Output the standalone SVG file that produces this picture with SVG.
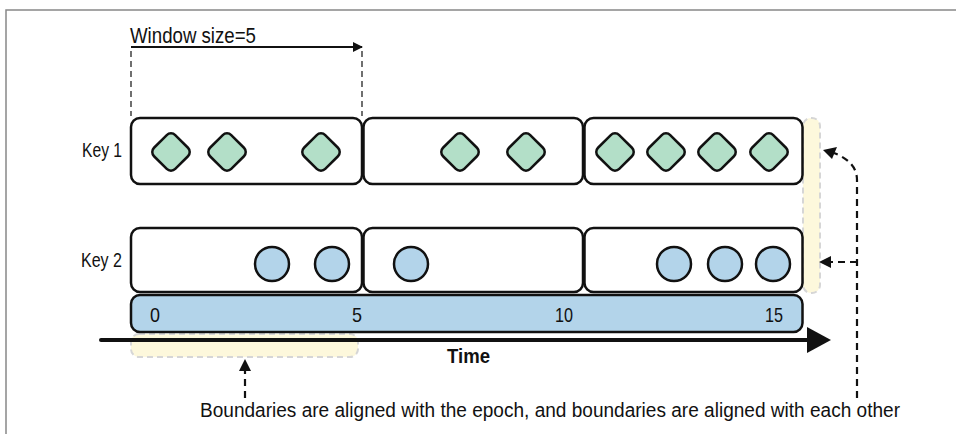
<svg xmlns="http://www.w3.org/2000/svg" width="956" height="434" viewBox="0 0 956 434">
<defs>
<style>
.t{font-family:"Liberation Sans","DejaVu Sans",sans-serif;fill:#111}
.box{fill:#fff;stroke:#111;stroke-width:2.5}
.dia{fill:#b3dfc8;stroke:#111;stroke-width:2.5}
.cir{fill:#b3d4ea;stroke:#111;stroke-width:2.5}
.dash{fill:none;stroke:#111;stroke-width:1.2;stroke-dasharray:6 4}
.dash2{fill:none;stroke:#111;stroke-width:2.2;stroke-dasharray:7 5}
.hl{fill:#fdf8dc;stroke:#d6d6d6;stroke-width:2;stroke-dasharray:6 4}
</style>
<marker id="ah" markerWidth="10" markerHeight="10" refX="9" refY="5" orient="auto" markerUnits="userSpaceOnUse" viewBox="0 0 10 10">
<path d="M0,0 L10,5 L0,10 Z" fill="#111"/>
</marker>
<rect id="d" x="-15" y="-15" width="30" height="30" rx="6" transform="rotate(45)" class="dia"/>
</defs>
<rect width="956" height="434" fill="#fff"/>
<path d="M6,434 V10 H956" fill="none" stroke="#888" stroke-width="1.5"/>

<g id="highlights">
<rect x="803" y="118" width="17" height="175" rx="8" class="hl"/>
<rect x="131" y="334" width="227" height="23" rx="8" class="hl"/>
</g>

<g id="window-label">
<text x="130" y="43" class="t" font-size="22" textLength="126" lengthAdjust="spacingAndGlyphs">Window size=5</text>
<line x1="131" y1="47" x2="362" y2="47" stroke="#111" stroke-width="2.2" marker-end="url(#ah)"/>
<line x1="131" y1="51" x2="131" y2="116" class="dash"/>
<line x1="362" y1="51" x2="362" y2="116" class="dash"/>
</g>

<g id="key1">
<text x="122" y="157" class="t" font-size="21" text-anchor="end" textLength="40" lengthAdjust="spacingAndGlyphs">Key 1</text>
<rect x="131" y="118" width="231" height="66" rx="9" class="box"/>
<rect x="363.5" y="118" width="219.5" height="66" rx="9" class="box"/>
<rect x="584.5" y="118" width="218" height="66" rx="9" class="box"/>
<use href="#d" x="171" y="152"/>
<use href="#d" x="227" y="152"/>
<use href="#d" x="321" y="152"/>
<use href="#d" x="460" y="152"/>
<use href="#d" x="526" y="152"/>
<use href="#d" x="615" y="152"/>
<use href="#d" x="666" y="152"/>
<use href="#d" x="717" y="152"/>
<use href="#d" x="769" y="152"/>
</g>

<g id="key2">
<text x="122" y="267" class="t" font-size="21" text-anchor="end" textLength="41" lengthAdjust="spacingAndGlyphs">Key 2</text>
<rect x="131" y="228" width="231" height="64" rx="9" class="box"/>
<rect x="363.5" y="228" width="219.5" height="64" rx="9" class="box"/>
<rect x="584.5" y="228" width="218" height="64" rx="9" class="box"/>
<circle cx="272" cy="264" r="17" class="cir"/>
<circle cx="332" cy="264" r="17" class="cir"/>
<circle cx="411" cy="264" r="17" class="cir"/>
<circle cx="674" cy="264" r="17" class="cir"/>
<circle cx="725" cy="264" r="17" class="cir"/>
<circle cx="773" cy="264" r="17" class="cir"/>
</g>

<g id="timebar">
<rect x="131" y="295" width="671.5" height="37" rx="9" fill="#b3d4ea" stroke="#111" stroke-width="2.5"/>
<text x="150" y="322" class="t" font-size="21" textLength="10" lengthAdjust="spacingAndGlyphs">0</text>
<text x="352" y="322" class="t" font-size="21" textLength="10" lengthAdjust="spacingAndGlyphs">5</text>
<text x="555" y="322" class="t" font-size="21" textLength="18" lengthAdjust="spacingAndGlyphs">10</text>
<text x="765" y="322" class="t" font-size="21" textLength="18" lengthAdjust="spacingAndGlyphs">15</text>
</g>

<g id="time-axis">
<line x1="101" y1="340" x2="810" y2="340" stroke="#111" stroke-width="4" stroke-linecap="round"/>
<path d="M807,327 L831,340 L807,353 Z" fill="#111"/>
<text x="447" y="363" class="t" font-size="21" font-weight="bold" textLength="43" lengthAdjust="spacingAndGlyphs">Time</text>
</g>

<g id="connectors">
<path d="M245,398 V370" class="dash2"/>
<path d="M245,359 L251,371 L239,371 Z" fill="#111"/>
<path d="M857,398 V180 Q857,162 834,153" class="dash2"/>
<path d="M823,150 L837,147 L832,159 Z" fill="#111"/>
<path d="M857,262 H830" class="dash2"/>
<path d="M819,262 L831,256 L831,268 Z" fill="#111"/>
</g>

<g id="caption">
<text x="200" y="417" class="t" font-size="20" textLength="700" lengthAdjust="spacingAndGlyphs">Boundaries are aligned with the epoch, and boundaries are aligned with each other</text>
</g>
</svg>
